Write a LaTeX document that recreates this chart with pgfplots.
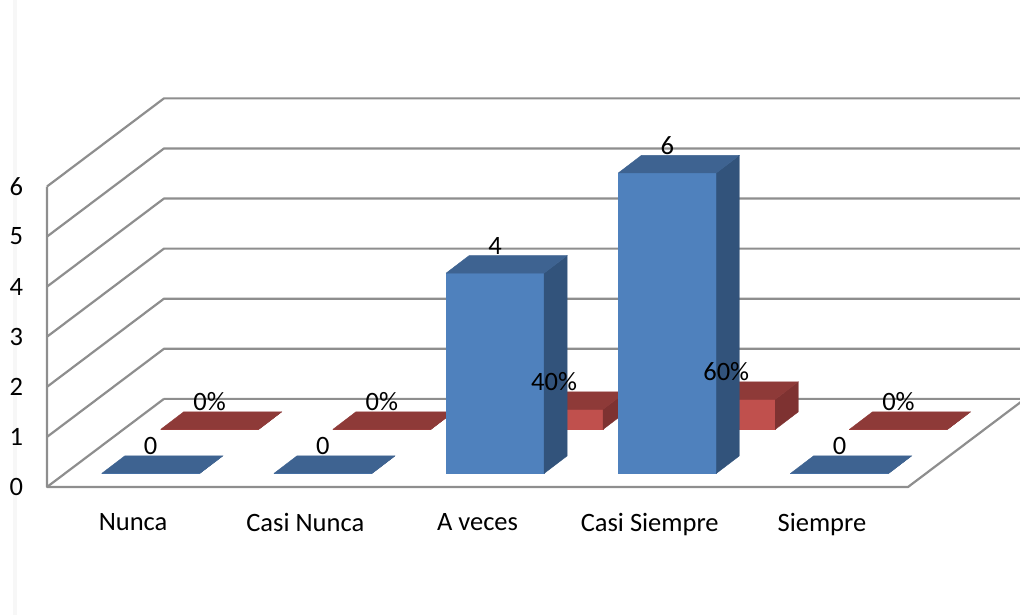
\documentclass[border=0pt]{standalone}
\usepackage{fontspec}
\setmainfont{Carlito}
\usepackage{pgfplots}
\pgfplotsset{compat=1.18}
\definecolor{bluefront}{HTML}{4F81BD}
\definecolor{bluetop}{HTML}{3E6391}
\definecolor{blueside}{HTML}{32537B}
\definecolor{redfront}{HTML}{C0504D}
\definecolor{redtop}{HTML}{8E3A38}
\definecolor{redside}{HTML}{7E3231}
\definecolor{wallgrey}{HTML}{8E8E8E}
% axis units: 172.2 px per category, 50 px per value unit
% #1 category, #2 value, #3 front x offset, #4 front y offset, #5 colour stem
\newcommand{\column}[5]{%
  \pgfmathsetmacro{\xa}{#1+0.213+#3}%
  \pgfmathsetmacro{\xb}{\xa+0.569}%
  \pgfmathsetmacro{\xc}{\xa+0.1336}%
  \pgfmathsetmacro{\xd}{\xb+0.1336}%
  \pgfmathsetmacro{\ya}{#4}%
  \pgfmathsetmacro{\yb}{#4+#2}%
  \pgfmathsetmacro{\yc}{#4+0.35}%
  \pgfmathsetmacro{\yd}{#4+#2+0.35}%
  \addplot[fill=#5front,draw=#5front,line width=0.4pt,forget plot] coordinates {(\xa,\ya) (\xb,\ya) (\xb,\yb) (\xa,\yb) (\xa,\ya)};
  \addplot[fill=#5side,draw=#5side,line width=0.4pt,forget plot] coordinates {(\xb,\ya) (\xd,\yc) (\xd,\yd) (\xb,\yb) (\xb,\ya)};
  \addplot[fill=#5top,draw=#5top,line width=0.4pt,forget plot] coordinates {(\xa,\yb) (\xb,\yb) (\xd,\yd) (\xc,\yd) (\xa,\yb)};
}
% #1 category, #2 value, #3 front x offset, #4 front y offset, #5 text
\newcommand{\columnlabel}[5]{%
  \pgfmathsetmacro{\xa}{#1+0.213+#3+0.2845}%
  \pgfmathsetmacro{\yd}{#4+#2+0.35+0.2}%
  \edef\temp{\noexpand\node[font=\noexpand\labelfont,text=black,inner sep=0pt] at (axis cs:\xa,\yd) {\unexpanded{#5}};}\temp
}
\newcommand{\labelfont}{\fontsize{26.5}{30}\selectfont}
\newcommand{\wall}[1]{%
  \pgfmathsetmacro{\yw}{#1+1.76}%
  \addplot[wallgrey,line width=2.2pt,line join=round,forget plot] coordinates {(0,#1) (0.6794,\yw) (5.6794,\yw)};
}
\begin{document}
\begin{tikzpicture}
\useasboundingbox (-47pt,-128pt) rectangle (973pt,487pt);
\fill[black!3] (-34pt,-128pt) rectangle (-30pt,487pt);
\begin{axis}[
  at={(0pt,0pt)},anchor=south west,
  scale only axis,width=861pt,height=300.5pt,
  xmin=0,xmax=5,ymin=0,ymax=6,clip=false,
  axis line style={draw=none},
  major tick length=0pt,
  xtick={0.5,1.5,2.5,3.5,4.5},
  xticklabels={Nunca,Casi Nunca,A veces,Casi Siempre,Siempre},
  ytick={0,1,2,3,4,5,6},
  /pgf/number format/assume math mode=true,
  tick label style={font=\labelfont,text=black},
  xticklabel style={yshift=-23pt},
  yticklabel style={xshift=-20.5pt},
]
% walls and floor
\wall{6}\wall{5}\wall{4}\wall{3}\wall{2}\wall{1}
\addplot[wallgrey,line width=2.2pt,line join=round,forget plot] coordinates {(0.6794,1.76) (5.6794,1.76) (5,0) (0,0) (0,6)};
\addplot[wallgrey,line width=2.2pt,forget plot] coordinates {(0,0) (0.6794,1.76)};
% red series, back row
\column{0}{0}{0.447}{1.15}{red}
\column{1}{0}{0.447}{1.15}{red}
\column{2}{0.4}{0.447}{1.15}{red}
\column{3}{0.6}{0.447}{1.15}{red}
\column{4}{0}{0.447}{1.15}{red}
% blue series, front row
\column{0}{0}{0.1045}{0.27}{blue}
\column{1}{0}{0.1045}{0.27}{blue}
\column{2}{4}{0.1045}{0.27}{blue}
\column{3}{6}{0.1045}{0.27}{blue}
\column{4}{0}{0.1045}{0.27}{blue}
% labels
\columnlabel{0}{0}{0.447}{1.15}{0\%}
\columnlabel{1}{0}{0.447}{1.15}{0\%}
\columnlabel{2}{0.4}{0.447}{1.15}{40\%}
\columnlabel{3}{0.6}{0.447}{1.15}{60\%}
\columnlabel{4}{0}{0.447}{1.15}{0\%}
\columnlabel{0}{0}{0.1045}{0.27}{0}
\columnlabel{1}{0}{0.1045}{0.27}{0}
\columnlabel{2}{4}{0.1045}{0.27}{4}
\columnlabel{3}{6}{0.1045}{0.27}{6}
\columnlabel{4}{0}{0.1045}{0.27}{0}
\end{axis}
\end{tikzpicture}
\end{document}
